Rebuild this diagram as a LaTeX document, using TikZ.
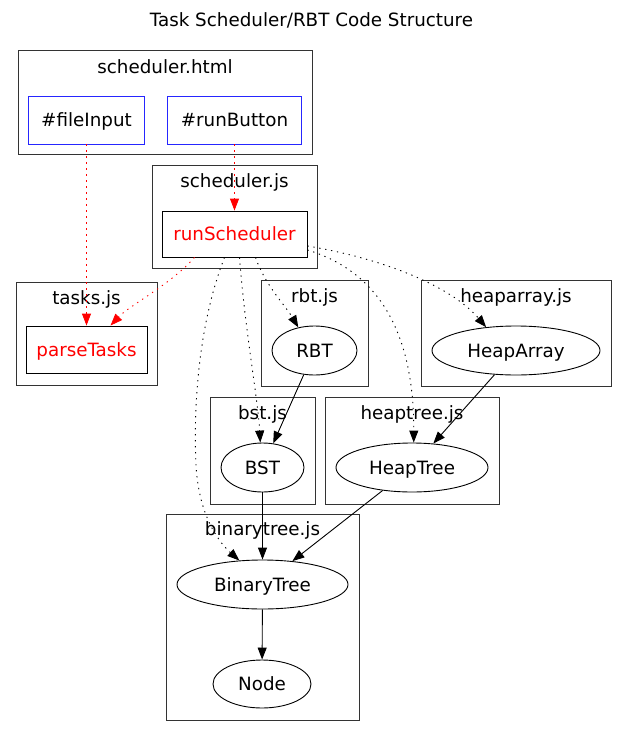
\documentclass[tikz,border=0pt]{standalone}
\usepackage{fontspec}
\setmainfont{DejaVu Sans}
\usetikzlibrary{arrows.meta,shapes.geometric,calc}
\begin{document}
\begin{tikzpicture}[x=1pt,y=-1pt,
  font=\fontsize{18.3}{22}\selectfont,
  every node/.style={inner sep=0pt, text height=13.2pt, text depth=0pt},
  cluster/.style={draw=black!80, line width=0.9pt},
  blubox/.style={draw=blue!85!white, line width=0.9pt, rectangle, minimum height=48pt},
  fnbox/.style={draw, line width=0.9pt, rectangle, text=red, minimum height=46pt},
  cls/.style={draw, line width=0.9pt, ellipse, minimum height=49pt},
  arr/.style={-{Triangle[length=12pt,width=9pt]}, line width=0.9pt},
  dotline/.style={dash pattern=on 1.3pt off 4.7pt},
  redarr/.style={arr, dotline, draw=red},
  blkdot/.style={arr, dotline}
]
\useasboundingbox (0,0) rectangle (627,736);

% title
\node (title) at (311.5,19.4) {Task Scheduler/RBT Code Structure};

% clusters
\draw[cluster] (18,50) rectangle (312,154);
\node (lhtml) at (165,66.5) {scheduler.html};
\draw[cluster] (152,165) rectangle (317,268);
\node (lsjs) at (234.5,181) {scheduler.js};
\draw[cluster] (16,282) rectangle (157,385);
\node (ltjs) at (86.5,298) {tasks.js};
\draw[cluster] (261,280) rectangle (368,386);
\node (lrbt) at (314.5,296) {rbt.js};
\draw[cluster] (421,280) rectangle (611,386);
\node (lha) at (516,296) {heaparray.js};
\draw[cluster] (210,397) rectangle (315,504);
\node (lbst) at (262.5,413) {bst.js};
\draw[cluster] (325,397) rectangle (499,504);
\node (lht) at (412,413) {heaptree.js};
\draw[cluster] (166,514) rectangle (359,720);
\node (lbt) at (262.5,529) {binarytree.js};

% nodes
\node[blubox, minimum width=116pt] (fi) at (86.5,120) {\#fileInput};
\node[blubox, minimum width=134pt] (rb) at (234.5,120) {\#runButton};
\node[fnbox, minimum width=145pt] (rs) at (234.5,234) {runScheduler};
\node[fnbox, minimum width=121pt, minimum height=47pt] (pt) at (86.5,349.5) {parseTasks};
\node[cls, minimum width=85pt] (rbt) at (314.5,350.5) {RBT};
\node[cls, minimum width=168pt] (ha) at (516,350.5) {HeapArray};
\node[cls, minimum width=83pt] (bst) at (262.5,467.5) {BST};
\node[cls, minimum width=152pt] (ht) at (412,467.5) {HeapTree};
\node[cls, minimum width=171pt] (bt) at (262.5,584.5) {BinaryTree};
\node[cls, minimum width=98pt, minimum height=48pt] (nd) at (262,684) {Node};

% red dotted edges
\draw[redarr] (fi.south) -- (pt.north);
\draw[redarr] (rb.south) -- (rs.north);
\draw[redarr] ($(rs.south)+(-40,0)$) .. controls (170,285) and (130,305) .. ($(pt.north)+(24,0)$);

% black dotted edges
\draw[blkdot] ($(rs.south)+(21,0)$) .. controls (265,285) and (285,305) .. (rbt.125);
\draw[blkdot] ($(rs.south)+(5,0)$) .. controls (245,330) and (258,400) .. (bst.95);
\draw[blkdot] ($(rs.south)+(-10,0)$) .. controls (200,320) and (193,400) .. (196,465)
   .. controls (199,520) and (222,545) .. (bt.134);
\draw[blkdot] ($(rs.east)+(0,16)$) .. controls (390,275) and (414,350) .. (ht.86);
\draw[blkdot] ($(rs.east)+(0,12)$) .. controls (380,258) and (450,285) .. (ha.142);

% solid edges
\draw[arr] (rbt) -- (bst);
\draw[arr] (ha) -- (ht);
\draw[arr] (bst) -- (bt);
\draw[arr] (ht) -- (bt);
\draw[arr] (bt) -- (nd);
\end{tikzpicture}
\end{document}
